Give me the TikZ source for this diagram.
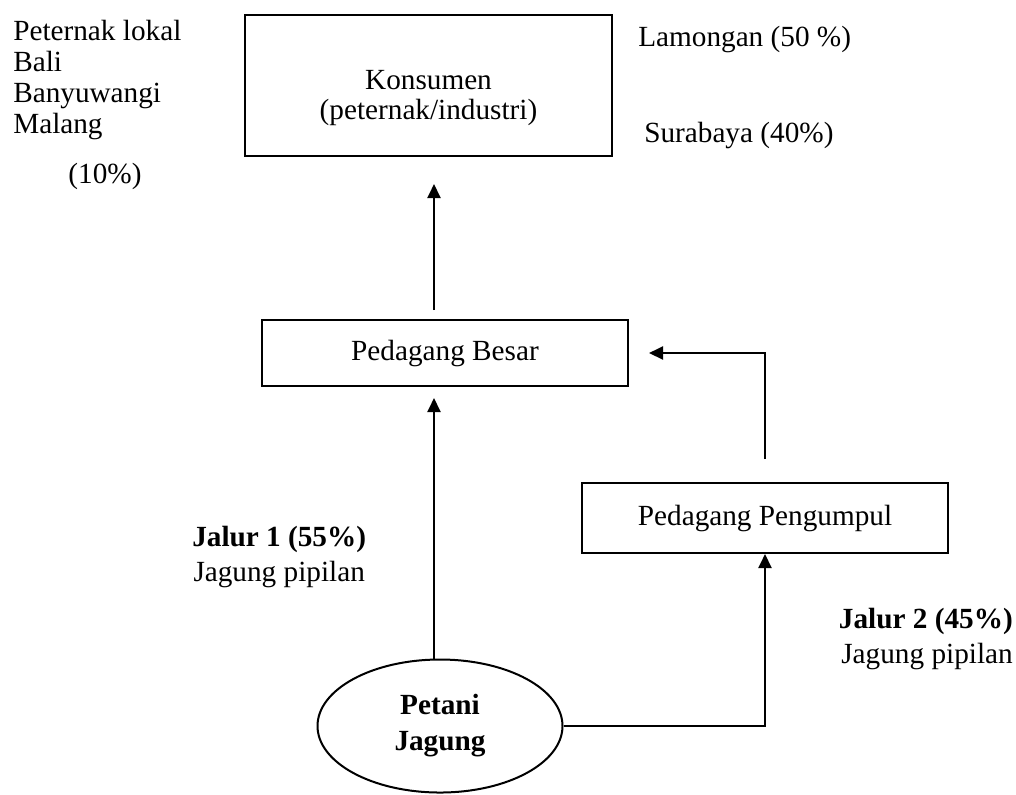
\documentclass[tikz,border=0pt]{standalone}
\usepackage{fontspec}
\setmainfont{Liberation Serif}
\usetikzlibrary{arrows.meta,shapes.geometric}
\tikzset{
  kotak/.style={draw, line width=0.5mm, inner sep=0pt, align=center},
  teks/.style={inner sep=0pt},
  panah/.style={line width=0.5mm, -{Triangle[length=3.5mm,width=3.25mm]}}
}

\begin{document}
\begin{tikzpicture}[x=0.25mm, y=-0.25mm, font=\fontsize{20.8pt}{22pt}\selectfont]
    \useasboundingbox (0,0) rectangle (1016,794);
    \node[kotak, minimum width=91.75mm, minimum height=35.25mm, font=\fontsize{20.8pt}{21.3pt}\selectfont] (konsumen) at (428.5,85.5) {\rule{0pt}{11.25mm}Konsumen\\(peternak/industri)};
    \node[kotak, minimum width=91.5mm, minimum height=16.5mm] (besar) at (445,353) {Pedagang Besar};
    \node[kotak, minimum width=91.5mm, minimum height=17.5mm] (pengumpul) at (765,518) {Pedagang Pengumpul};
    \node[kotak, ellipse, minimum width=61.25mm, minimum height=33.25mm, font=\bfseries\fontsize{20.8pt}{25.6pt}\selectfont] (petani) at (440,726) {Petani\\Jagung};
    \node[teks, align=left, anchor=north west] (asal) at (13,20) {Peternak lokal\\Bali\\Banyuwangi\\Malang};
    \node[teks] (persen) at (105,176) {(10\%)};
    \node[teks, anchor=west] (lamongan) at (638,40) {Lamongan (50 \%)};
    \node[teks, anchor=west] (surabaya) at (644,136) {Surabaya (40\%)};
    \node[teks, align=center, anchor=west, font=\fontsize{20.8pt}{24.9pt}\selectfont] (jalur1) at (192,557) {\textbf{Jalur 1 (55\%)}\\Jagung pipilan};
    \node[teks, align=right, anchor=east, font=\fontsize{20.8pt}{24.2pt}\selectfont] (jalur2) at (1013,639) {\textbf{Jalur 2 (45\%)}\\Jagung pipilan};
    \coordinate (kolom) at (434,0);
    \draw[panah, shorten <=2.25mm, shorten >=6.75mm] (besar.north -| kolom) -- (konsumen.south -| kolom);
    \draw[panah, shorten >=2.75mm] (petani.north -| kolom) -- (besar.south -| kolom);
    \draw[panah, shorten <=5.75mm, shorten >=5mm] (pengumpul.north) |- (besar.east);
    \draw[panah] (petani.east) -| (pengumpul.south);
\end{tikzpicture}
\end{document}
